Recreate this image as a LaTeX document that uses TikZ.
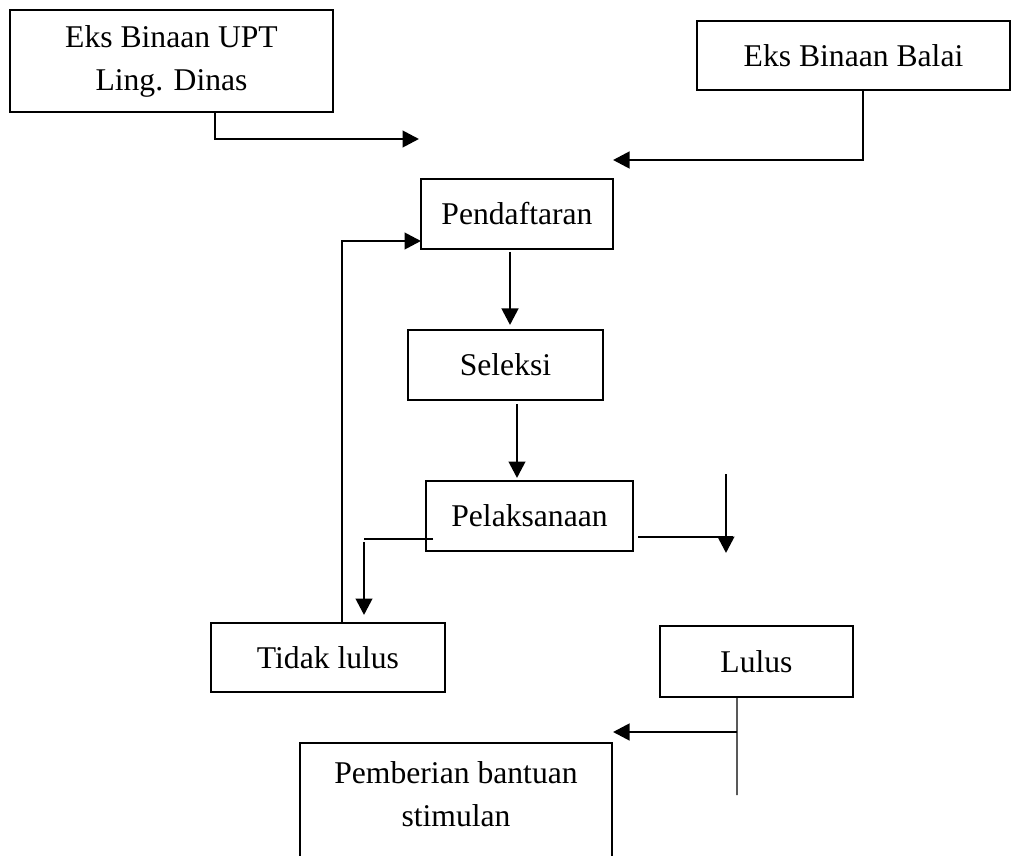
\documentclass[tikz,border=0pt]{standalone}
\usepackage{fontspec}
\setmainfont{Liberation Serif}
\usepackage{tikz}
\usetikzlibrary{arrows.meta,positioning,calc}

\begin{document}
\begin{tikzpicture}[
    box/.style={draw=black, line width=1.7pt, fill=white, align=center,
                font=\fontsize{18}{24.5}\selectfont, inner sep=0pt, outer sep=0pt},
    arr/.style={-{Triangle[length=0.33cm,width=0.33cm]}, line width=1.6pt},
    thinline/.style={line width=0.7pt}]

    % page
    \clip (0,0) rectangle (20.22,-17.12);
    \useasboundingbox (0,0) rectangle (20.22,-17.12);

    % sources
    \node[box, minimum width=6.46cm, minimum height=2.04cm] (upt) at (3.43,-1.22) {Eks Binaan UPT\\Ling. Dinas};
    \node[box, minimum width=6.26cm, minimum height=1.38cm] (balai) at (17.07,-1.11) {Eks Binaan Balai};
    \coordinate (in1) at (8.38,-2.78);
    \coordinate (in2) at (12.26,-3.20);
    \draw[arr] ([xshift=0.87cm]upt.south) |- (in1);
    \draw[arr] ([xshift=0.19cm]balai.south) |- (in2);

    % main flow
    \node[box, minimum width=3.84cm, minimum height=1.40cm] (daftar) at (10.34,-4.28) {Pendaftaran};
    \node[box, minimum width=3.90cm, minimum height=1.40cm] (seleksi) at (10.11,-7.30) {Seleksi};
    \node[box, minimum width=4.14cm, minimum height=1.40cm] (laksana) at (10.59,-10.32) {Pelaksanaan};
    \draw[arr, shorten <=0.06cm, shorten >=0.1cm] ([xshift=-0.14cm]daftar.south) -- ([xshift=-0.14cm]daftar.south |- seleksi.north);
    \draw[arr, shorten <=0.08cm, shorten >=0.06cm] ([xshift=0.23cm]seleksi.south) -- ([xshift=0.23cm]seleksi.south |- laksana.north);

    % results
    \node[box, minimum width=4.68cm, minimum height=1.38cm] (tidak) at (6.56,-13.15) {Tidak lulus};
    \node[box, minimum width=3.86cm, minimum height=1.42cm] (lulus) at (15.13,-13.23) {Lulus};
    \coordinate (split1) at (7.28,-10.78);
    \coordinate (split2) at (14.66,-10.74);
    \coordinate (down-a) at (14.52,-9.48);
    \coordinate (down-b) at (14.52,-11.06);
    \draw[thinline] ([xshift=0.14cm]split1 -| laksana.west) -- (split1);
    \draw[arr, shorten >=0.16cm] ([yshift=-0.06cm]split1) -- (split1 |- tidak.north);
    \draw[thinline] ([xshift=0.1cm]split2 -| laksana.east) -- (split2);
    \draw[arr] (down-a) -- (down-b);

    % back to registration
    \draw[arr] ([xshift=0.28cm]tidak.north) |- ([yshift=0.16cm]daftar.south west);

    % assistance
    \node[box, minimum width=6.24cm, minimum height=2.38cm] (beri) at (9.12,-16.05) {};
    \node[font=\fontsize{18}{24.5}\selectfont, align=center] (beritxt) at (9.12,-15.88) {Pemberian bantuan\\stimulan};
    \coordinate (lulus-end) at (14.74,-15.90);
    \coordinate (in3) at (12.26,-14.64);
    \draw[thinline] ([xshift=-0.39cm]lulus.south) -- (lulus-end);
    \draw[arr] (in3 -| lulus-end) -- (in3);
\end{tikzpicture}
\end{document}
